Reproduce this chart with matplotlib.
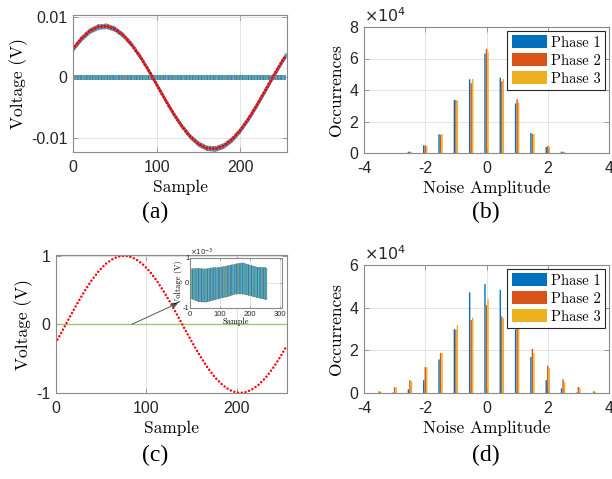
import numpy as np
import matplotlib
matplotlib.use("Agg")
import matplotlib.pyplot as plt

plt.rcParams['axes.unicode_minus'] = False
plt.rcParams['hatch.linewidth'] = 0.5

# colores MATLAB
C1 = (0.000, 0.447, 0.741)
C2 = (0.850, 0.325, 0.098)
C3 = (0.929, 0.694, 0.125)
C4 = (0.494, 0.184, 0.556)
C5 = (0.466, 0.674, 0.188)
C6 = (0.301, 0.745, 0.933)
C7 = (0.635, 0.078, 0.184)

# (a) señal de referencia (V)
muestra_a = [0, 10, 20, 30, 40, 50, 60, 70, 80, 90, 100, 110, 120, 130, 140,
             150, 160, 170, 180, 190, 200, 210, 220, 230, 240, 250, 255]
senal_a = [0.00471, 0.00641, 0.00766, 0.00835, 0.00847, 0.00800, 0.00697,
           0.00544, 0.00349, 0.00126, -0.00116, -0.00360, -0.00593, -0.00801,
           -0.00972, -0.01096, -0.01166, -0.01177, -0.01130, -0.01027,
           -0.00874, -0.00679, -0.00455, -0.00214, 0.00030, 0.00263, 0.00370]
ruido_a = 0.0004

# (c) señal normalizada
muestra_c = [0, 8, 16, 24, 32, 40, 48, 56, 64, 72, 80, 88, 96, 104, 112, 120,
             128, 136, 144, 152, 160, 168, 176, 184, 192, 200, 208, 216, 224,
             232, 240, 248, 255]
senal_c = [-0.2704, -0.0781, 0.1171, 0.3079, 0.4869, 0.6471, 0.7832, 0.8891,
           0.9611, 0.9965, 0.9938, 0.9532, 0.8768, 0.7672, 0.6270, 0.4633,
           0.2827, 0.0904, -0.1047, -0.2950, -0.4751, -0.6378, -0.7755,
           -0.8809, -0.9572, -0.9955, -0.9952, -0.9554, -0.8802, -0.7733,
           -0.6352, -0.4721, -0.3139]

# inset (c): envolvente del ruido (x1e-3 V)
muestra_in = [0, 25, 50, 75, 100, 125, 150, 175, 200, 225, 255]
ruido_sup = [0.55, 0.58, 0.55, 0.60, 0.62, 0.68, 0.75, 0.80, 0.70, 0.62, 0.60]
ruido_inf = [-0.62, -0.75, -0.78, -0.70, -0.62, -0.55, -0.45, -0.45, -0.52, -0.60, -0.68]

# histogramas (x1e4)
amp_b = [-2.5, -2, -1.5, -1, -0.5, 0, 0.5, 1, 1.5, 2, 2.5]
fase1_b = [0.08, 0.49, 1.19, 3.36, 4.68, 6.31, 4.78, 3.15, 1.27, 0.38, 0.08]
fase2_b = [0.08, 0.47, 1.16, 3.36, 4.42, 6.62, 4.55, 3.41, 1.20, 0.44, 0.08]
fase3_b = [0.07, 0.44, 1.20, 3.30, 4.70, 6.43, 4.70, 3.20, 1.23, 0.42, 0.07]

amp_d = [-3.5, -3, -2.5, -2, -1.5, -1, -0.5, 0, 0.5, 1, 1.5, 2, 2.5, 3, 3.5]
fase1_d = [0.0, 0.02, 0.17, 0.60, 1.57, 2.99, 4.72, 5.11, 4.83, 2.98, 1.69, 0.60, 0.22, 0.02, 0.0]
fase2_d = [0.08, 0.27, 0.60, 1.21, 1.87, 2.96, 3.42, 4.12, 3.59, 3.03, 2.07, 1.27, 0.64, 0.28, 0.08]
fase3_d = [0.06, 0.27, 0.55, 1.21, 1.87, 3.18, 3.53, 4.40, 3.51, 3.10, 1.87, 1.16, 0.52, 0.24, 0.06]

fases = ['Phase 1', 'Phase 2', 'Phase 3']

TICK_FONT = 'Liberation Sans'
LABEL_FONT = 'cmr10'
GRIS = '#8a8a8a'
# capas de color para simular el ruido (color, densidad de trama)
CAPAS = [(C3, 5), (C2, 7), (C7, 4), (C4, 6), (C5, 9), (C1, 8), (C6, 11)]


def estilo(ax, fs=11.5, largo=3.5, pad=6):
    for s in ax.spines.values():
        s.set_color(GRIS)
        s.set_linewidth(0.8)
    ax.tick_params(direction='in', length=largo, width=0.6, colors='#262626',
                   top=True, right=True, labelsize=fs, pad=pad)
    ax.tick_params(axis='y', pad=pad - 2)
    ax.tick_params(axis='both', color=GRIS)
    for lab in ax.get_xticklabels() + ax.get_yticklabels():
        lab.set_fontfamily(TICK_FONT)
    ax.grid(True, color='#e3e3e3', linewidth=0.7)
    ax.set_axisbelow(True)


def banda(ax, x, lo, hi, fondo):
    ax.fill_between(x, lo, hi, color=fondo, lw=0)
    for col, n in CAPAS:
        ax.fill_between(x, lo, hi, facecolor='none', edgecolor=col,
                        hatch='|' * n, lw=0)


W, H = 612, 479
fig = plt.figure(figsize=(W / 100, H / 100), dpi=100)


def caja(izq, der, arr, aba):
    return fig.add_axes([izq / W, 1 - aba / H, (der - izq) / W, (aba - arr) / H])


# ---- (a)
ax_a = caja(73, 287, 15, 152)
xa = np.array(muestra_a)
ya = np.array(senal_a)
banda(ax_a, xa, -ruido_a + 0 * xa, ruido_a + 0 * xa, (0.55, 0.6, 0.55))
banda(ax_a, xa, ya - ruido_a, ya + ruido_a, (0.3, 0.5, 0.65))
ax_a.plot(xa, ya, color='red', lw=2.2, linestyle=(0, (0.01, 1.1)), dash_capstyle='round')
ax_a.set_xlim(0, 256)
ax_a.set_ylim(-0.0123, 0.0103)
ax_a.set_xticks([0, 100, 200])
ax_a.set_yticks([-0.01, 0, 0.01])
ax_a.set_yticklabels(['-0.01', '0', '0.01'])
estilo(ax_a)
ax_a.set_xlabel('Sample', fontfamily=LABEL_FONT, fontsize=12.5, labelpad=3)
ax_a.set_ylabel('Voltage (V)', fontfamily=LABEL_FONT, fontsize=12.5, labelpad=2)


def histo(ax, amp, f1, f2, f3, ymax):
    x = np.array(amp)
    w = 0.046
    ax.bar(x - 0.05, f1, w, color=C1, lw=0, snap=False, label=fases[0])
    ax.bar(x, f2, w, color=C2, lw=0, snap=False, label=fases[1])
    ax.bar(x + 0.05, f3, w, color=C3, lw=0, snap=False, label=fases[2])
    ax.set_xlim(-4, 4)
    ax.set_ylim(0, ymax)
    ax.set_xticks([-4, -2, 0, 2, 4])
    ax.set_yticks(np.arange(0, ymax + 1, 2))
    estilo(ax)
    ax.set_xlabel('Noise Amplitude', fontfamily=LABEL_FONT, fontsize=12.5, labelpad=3)
    ax.set_ylabel('Occurrences', fontfamily=LABEL_FONT, fontsize=12.5, labelpad=4)
    ax.text(0.0, 1.015, r'$\times 10^{4}$', transform=ax.transAxes, fontsize=11.5,
            fontfamily=TICK_FONT, color='#262626', va='bottom', ha='left')
    leg = ax.legend(loc='upper right', prop={'family': LABEL_FONT, 'size': 10.5},
                    fancybox=False, framealpha=1, edgecolor='#262626',
                    handlelength=2.4, handleheight=1.0, handletextpad=0.3,
                    labelspacing=0.25, borderpad=0.3, borderaxespad=0.25)
    leg.get_frame().set_linewidth(0.8)


# ---- (b)
ax_b = caja(364, 609, 27, 153)
histo(ax_b, amp_b, fase1_b, fase2_b, fase3_b, 8)

# ---- (c)
ax_c = caja(55.7, 286.7, 255, 393)
ax_c.axhline(0, color=(0.62, 0.79, 0.45), lw=1.0)
ax_c.plot(muestra_c, senal_c, color='red', lw=1.8, linestyle=(0, (0.01, 1.5)),
          dash_capstyle='round')
ax_c.set_xlim(0, 255)
ax_c.set_ylim(-1, 1.01)
ax_c.set_xticks([0, 100, 200])
ax_c.set_yticks([-1, 0, 1])
estilo(ax_c)
ax_c.set_xlabel('Sample', fontfamily=LABEL_FONT, fontsize=12.5, labelpad=3)
ax_c.set_ylabel('Voltage (V)', fontfamily=LABEL_FONT, fontsize=12.5, labelpad=2)
ax_c.annotate('', xy=(135, 0.31), xytext=(84, 0),
              arrowprops=dict(arrowstyle='-|>', color='#555555', lw=0.7,
                              mutation_scale=9, shrinkA=0, shrinkB=0))

# inset
ax_in = caja(190, 281.7, 257.7, 307.5)
ax_in.set_facecolor('white')
banda(ax_in, np.array(muestra_in), np.array(ruido_inf), np.array(ruido_sup), (0.45, 0.6, 0.55))
ax_in.set_xlim(0, 305)
ax_in.set_ylim(-1, 1)
ax_in.set_xticks([0, 100, 200, 300])
ax_in.set_yticks([-1, 0, 1])
estilo(ax_in, fs=5.5, largo=1.5, pad=2.5)
ax_in.set_xlabel('Sample', fontfamily=LABEL_FONT, fontsize=6, labelpad=0)
ax_in.set_ylabel('Voltage (V)', fontfamily=LABEL_FONT, fontsize=6, labelpad=0)
ax_in.text(0.0, 1.0, r'$\times 10^{-3}$', transform=ax_in.transAxes, fontsize=5,
           color='#262626', va='bottom', ha='left')

# ---- (d)
ax_d = caja(364, 609, 265, 393)
histo(ax_d, amp_d, fase1_d, fase2_d, fase3_d, 6)

# leyendas de subfigura
for etiqueta, x, y in [('(a)', 155, 212), ('(b)', 486, 212), ('(c)', 155, 455), ('(d)', 486, 455)]:
    fig.text(x / W, 1 - y / H, etiqueta, fontfamily='Liberation Serif', fontsize=17,
             ha='center', va='center')

plt.savefig('out.png', dpi=100)
